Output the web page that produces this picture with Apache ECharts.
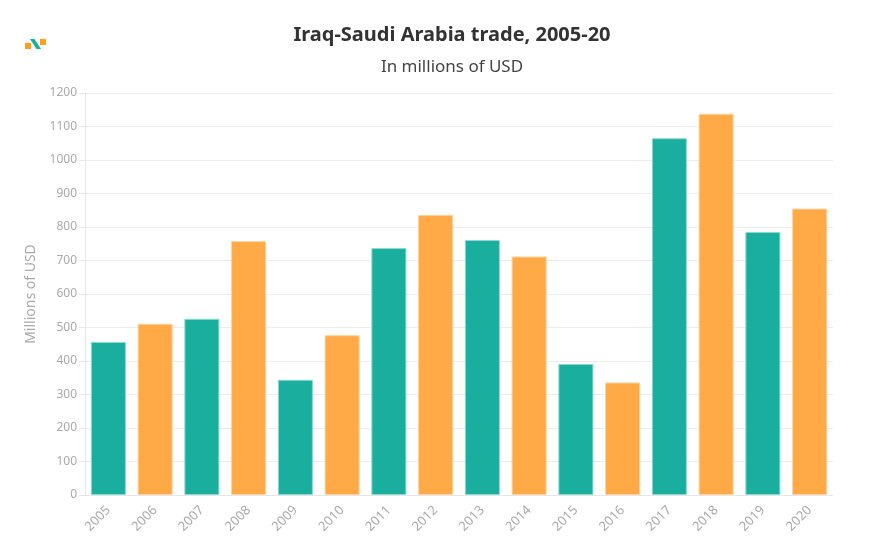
<!DOCTYPE html>
<html><head><meta charset="utf-8">
<script src="https://cdn.jsdelivr.net/npm/echarts@6/dist/echarts.min.js"></script>
<style>html,body{margin:0;padding:0;background:#fff}#c{width:896px;height:543px}</style>
</head><body><div id="c"></div>
<script>
const years = ['2005','2006','2007','2008','2009','2010','2011','2012','2013','2014','2015','2016','2017','2018','2019','2020'];
const tradeValues = [457, 511, 526, 758, 344, 477, 737, 836, 761, 712, 391, 336, 1065, 1138, 785, 855];
const teal = '#1aae9f', orange = '#ffaa47';
const barColors = ['teal','orange','teal','orange','teal','orange','teal','orange','teal','orange','teal','orange','teal','orange','teal','orange'];
const font = '"Source Sans Pro","Noto Sans",sans-serif';
const chart = echarts.init(document.getElementById('c'));
chart.setOption({
  animation:false,
  title:{
    text:'Iraq-Saudi Arabia trade, 2005-20',
    subtext:'In millions of USD',
    left:452, textAlign:'center', top:25, itemGap:14, padding:0,
    textStyle:{fontFamily:font,fontSize:20,fontWeight:'bold',color:'#333'},
    subtextStyle:{fontFamily:font,fontSize:17,color:'#444'}
  },
  graphic:[
    {type:'rect',shape:{x:25,y:43,width:6,height:6},style:{fill:'#ff9f1c'}},
    {type:'rect',shape:{x:40,y:39,width:6,height:6},style:{fill:'#ff9f1c'}},
    {type:'polygon',shape:{points:[[30,39],[34.5,39],[41,49],[36.5,49]]},style:{fill:'#1aae9f'}}
  ],
  grid:{left:85,right:63,top:93,bottom:48},
  xAxis:{
    type:'category',data:years,
    axisLine:{lineStyle:{color:'#e6e6e6'}},
    axisTick:{alignWithLabel:true,lineStyle:{color:'#e6e6e6'}},
    axisLabel:{rotate:45,color:'#aaa',fontFamily:font,fontSize:13,margin:13}
  },
  yAxis:{
    type:'value',min:0,max:1200,interval:100,
    name:'Millions of USD',nameLocation:'middle',nameGap:47,
    nameTextStyle:{color:'#aaa',fontFamily:font,fontSize:14},
    axisLine:{show:true,lineStyle:{color:'#e6e6e6'}},
    axisTick:{show:true,length:6,lineStyle:{color:'#e6e6e6'}},
    axisLabel:{color:'#aaa',fontFamily:font,fontSize:12,formatter:v=>String(v)},
    splitLine:{lineStyle:{color:'#ebebeb'}}
  },
  series:[{
    type:'bar',barCategoryGap:'25%',
    data:tradeValues.map((v,i)=>({value:v,itemStyle:{color:barColors[i]==='teal'?teal:orange,borderColor:barColors[i]==='teal'?'#8fd8d0':'#ffd39e',borderWidth:1}}))
  }]
});
</script></body></html>
